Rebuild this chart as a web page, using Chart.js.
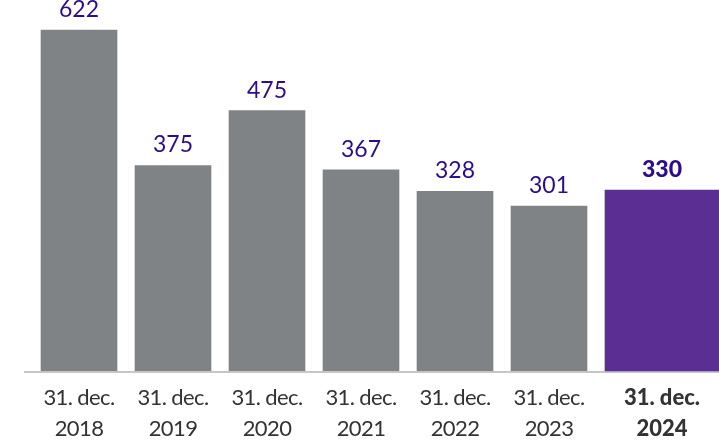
<!DOCTYPE html>
<html>
<head>
<meta charset="utf-8">
<script src="https://cdn.jsdelivr.net/npm/chart.js@4.4.1/dist/chart.umd.min.js"></script>
<style>
  html, body { margin: 0; padding: 0; background: #fff; }
  #wrap { width: 719px; height: 441px; position: relative; }
</style>
</head>
<body>
<div id="wrap"><canvas id="barChart"></canvas></div>
<script>
const dates = ['31. dec.', '31. dec.', '31. dec.', '31. dec.', '31. dec.', '31. dec.', '31. dec.']
const years = ['2018', '2019', '2020', '2021', '2022', '2023', '2024']
const pastValues = [622, 375, 475, 367, 328, 301, null]
const currentValues = [null, null, null, null, null, null, 330]

const grey = '#808386'
const purple = '#5b2e93'
const labelPurple = '#2c0c8a'
const textGrey = '#333333'

Chart.defaults.font.family = 'Lato'

// the highlighted bar is wider but keeps its left edge in line with the others
const highlightBar = {
    id: 'highlightBar',
    afterDatasetsUpdate(chart) {
        const normal = chart.getDatasetMeta(0).data.find(el => el && !isNaN(el.width))
        chart.getDatasetMeta(1).data.forEach(el => {
            if (el && normal) el.x += (el.width - normal.width) / 2
        })
    },
    beforeDatasetsDraw(chart) {
        const {ctx, chartArea} = chart
        ctx.save()
        ctx.strokeStyle = '#c6c6c6'
        ctx.lineWidth = 2
        ctx.beginPath()
        ctx.moveTo(chartArea.left - 8, chartArea.bottom + 1)
        ctx.lineTo(chart.width, chartArea.bottom + 1)
        ctx.stroke()
        ctx.restore()
    },
    afterDatasetsDraw(chart) {
        const {ctx, chartArea} = chart
        ctx.save()
        ctx.textAlign = 'center'
        chart.data.datasets.forEach((ds, d) => {
            const bold = d === 1
            chart.getDatasetMeta(d).data.forEach((el, i) => {
                if (ds.data[i] == null) return
                ctx.letterSpacing = '0px'
                ctx.fillStyle = labelPurple
                ctx.textBaseline = 'alphabetic'
                ctx.font = (bold ? '900 ' : '400 ') + '23px Lato'
                ctx.fillText(ds.data[i], el.x, el.y - 13)

                ctx.letterSpacing = bold ? '0px' : '-0.6px'
                ctx.fillStyle = textGrey
                ctx.textBaseline = 'top'
                ctx.font = (bold ? '900 ' : '400 ') + '22px Lato'
                ctx.fillText(dates[i], el.x, chartArea.bottom + 16)
                ctx.fillText(years[i], el.x, chartArea.bottom + 47)
            })
        })
        ctx.restore()
    }
}

new Chart(document.getElementById('barChart'), {
    type: 'bar',
    data: {
        labels: years,
        datasets: [{
            data: pastValues,
            backgroundColor: grey,
            barThickness: 76,
            grouped: false,
        }, {
            data: currentValues,
            backgroundColor: purple,
            barThickness: 114,
            grouped: false,
            clip: false,
        }]
    },
    options: {
        responsive: true,
        maintainAspectRatio: false,
        animation: false,
        layout: {
            padding: { left: 32, right: 29, top: 0, bottom: 70 }
        },
        plugins: {
            legend: { display: false },
            tooltip: { enabled: false },
        },
        scales: {
            x: {
                display: false,
                offset: true,
            },
            y: {
                display: false,
                min: 0,
                max: 677,
            }
        }
    },
    plugins: [highlightBar]
})
</script>
</body>
</html>
